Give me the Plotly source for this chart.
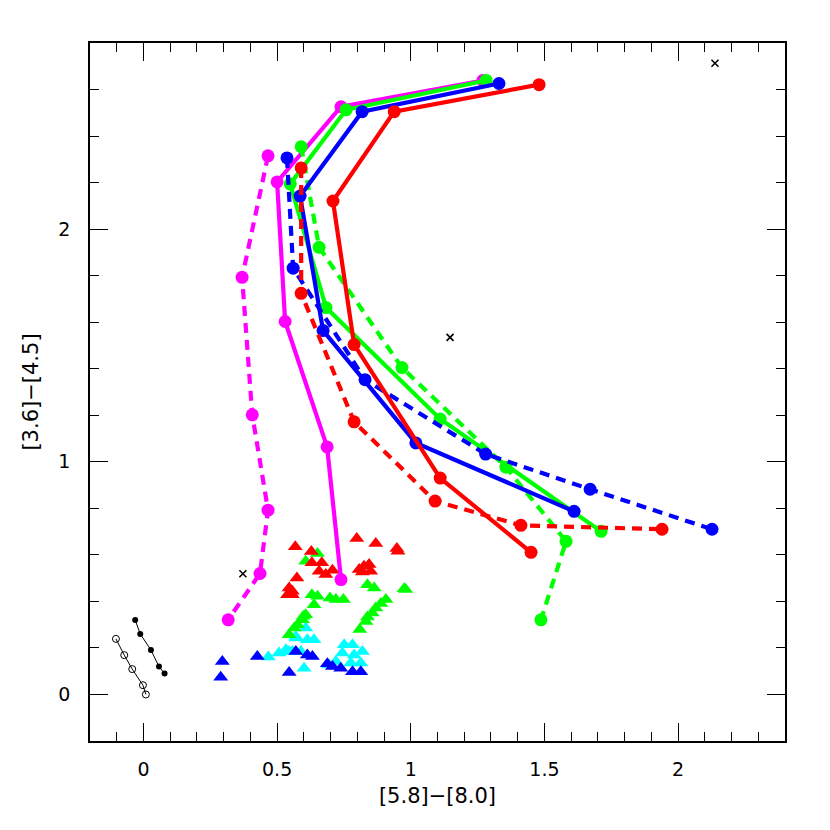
import plotly.graph_objects as go

# ---- model tracks: x = [5.8]-[8.0], y = [3.6]-[4.5] ----
mag_solid_x = [1.270, 0.739, 0.500, 0.530, 0.687, 0.739]
mag_solid_y = [2.639, 2.526, 2.203, 1.603, 1.064, 0.494]
mag_dash_x = [0.466, 0.369, 0.407, 0.466, 0.436, 0.317]
mag_dash_y = [2.315, 1.793, 1.202, 0.792, 0.520, 0.321]

grn_solid_x = [1.282, 0.758, 0.549, 0.683, 1.110, 1.712]
grn_solid_y = [2.639, 2.513, 2.194, 1.663, 1.184, 0.701]
grn_dash_x = [0.590, 0.657, 0.967, 1.356, 1.581, 1.487]
grn_dash_y = [2.354, 1.922, 1.405, 0.977, 0.658, 0.321]

blu_solid_x = [1.330, 0.818, 0.586, 0.672, 1.019, 1.611]
blu_solid_y = [2.626, 2.505, 2.142, 1.564, 1.081, 0.787]
blu_dash_x = [0.537, 0.560, 0.829, 1.280, 1.671, 2.127]
blu_dash_y = [2.306, 1.832, 1.353, 1.033, 0.882, 0.710]

red_solid_x = [1.480, 0.938, 0.709, 0.788, 1.110, 1.450]
red_solid_y = [2.621, 2.505, 2.121, 1.504, 0.930, 0.611]
red_dash_x = [0.590, 0.590, 0.788, 1.091, 1.412, 1.940]
red_dash_y = [2.263, 1.724, 1.172, 0.831, 0.727, 0.710]

# ---- reference sequences (black) ----
blk_fill_x = [-0.031, -0.012, 0.028, 0.058, 0.079]
blk_fill_y = [0.320, 0.260, 0.191, 0.120, 0.090]
blk_open_x = [-0.103, -0.072, -0.042, -0.002, 0.009]
blk_open_y = [0.239, 0.169, 0.109, 0.040, 0.000]

cross_x = [2.138, 1.147, 0.372]
cross_y = [2.713, 1.535, 0.519]

# ---- observed sources (triangles) ----
tri_red_x = [0.568, 0.628, 0.630, 0.667, 0.657, 0.682, 0.707, 0.798, 0.869, 0.948, 0.952,
             0.807, 0.825, 0.844, 0.850, 0.819, 0.574, 0.545, 0.557, 0.539, 0.557]
tri_red_y = [0.635, 0.614, 0.566, 0.566, 0.530, 0.516, 0.534, 0.670, 0.649, 0.627, 0.616,
             0.537, 0.551, 0.559, 0.530, 0.526, 0.501, 0.458, 0.444, 0.429, 0.429]

tri_grn_x = [0.651, 0.607, 0.838, 0.863, 0.975, 0.981, 0.630, 0.651, 0.638, 0.698, 0.720, 0.748,
             0.907, 0.888, 0.869, 0.856, 0.838, 0.832, 0.809, 0.607, 0.595, 0.576, 0.564, 0.545, 0.598]
tri_grn_y = [0.606, 0.573, 0.472, 0.458, 0.454, 0.451, 0.429, 0.422, 0.386, 0.415, 0.408, 0.408,
             0.408, 0.391, 0.372, 0.350, 0.333, 0.314, 0.279, 0.343, 0.321, 0.300, 0.286, 0.257, 0.336]

tri_cyn_x = [0.467, 0.507, 0.533, 0.557, 0.570, 0.607, 0.613, 0.638, 0.589, 0.601, 0.751,
             0.782, 0.819, 0.744, 0.788, 0.720, 0.694, 0.776, 0.813, 0.570, 0.545]
tri_cyn_y = [0.161, 0.178, 0.192, 0.185, 0.249, 0.286, 0.235, 0.235, 0.185, 0.113, 0.214,
             0.214, 0.185, 0.178, 0.170, 0.142, 0.127, 0.135, 0.135, 0.243, 0.185]

tri_blu_x = [0.295, 0.289, 0.426, 0.545, 0.570, 0.613, 0.632, 0.688, 0.738, 0.782, 0.813, 0.707]
tri_blu_y = [0.142, 0.074, 0.163, 0.094, 0.185, 0.170, 0.163, 0.132, 0.113, 0.098, 0.098, 0.120]

MAG, GRN, BLU, RED, CYN = "#FF00FF", "#00FF00", "#0000FF", "#FF0000", "#00FFFF"

fig = go.Figure()

def tri(x, y, c):
    fig.add_trace(go.Scatter(x=x, y=y, mode="markers",
                             marker=dict(symbol="triangle-up", size=13, color=c, line=dict(width=0)),
                             showlegend=False, hoverinfo="skip"))

tri(tri_cyn_x, tri_cyn_y, CYN)
tri(tri_blu_x, tri_blu_y, BLU)
tri(tri_grn_x, tri_grn_y, GRN)
tri(tri_red_x, tri_red_y, RED)

DASH = "10px,7px"

def track(x, y, c, dash):
    fig.add_trace(go.Scatter(x=x, y=y, mode="lines+markers",
                             line=dict(color=c, width=4.2, dash=dash),
                             marker=dict(symbol="circle", size=13, color=c),
                             showlegend=False))

track(mag_dash_x, mag_dash_y, MAG, DASH)
track(mag_solid_x, mag_solid_y, MAG, "solid")
track(grn_dash_x, grn_dash_y, GRN, DASH)
track(grn_solid_x, grn_solid_y, GRN, "solid")
track(blu_dash_x, blu_dash_y, BLU, DASH)
track(blu_solid_x, blu_solid_y, BLU, "solid")
track(red_dash_x, red_dash_y, RED, DASH)
track(red_solid_x, red_solid_y, RED, "solid")

fig.add_trace(go.Scatter(x=blk_fill_x, y=blk_fill_y, mode="lines+markers",
                         line=dict(color="black", width=1),
                         marker=dict(symbol="circle", size=6, color="black"),
                         showlegend=False))
fig.add_trace(go.Scatter(x=blk_open_x, y=blk_open_y, mode="lines+markers",
                         line=dict(color="black", width=1),
                         marker=dict(symbol="circle-open", size=7, color="black", line=dict(width=1)),
                         showlegend=False))
fig.add_trace(go.Scatter(x=cross_x, y=cross_y, mode="markers",
                         marker=dict(symbol="x-thin", size=7, color="black", line=dict(width=1.6, color="black")),
                         showlegend=False))

FONT = "DejaVu Sans"
axis_common = dict(
    showgrid=False, zeroline=False, showline=True, linecolor="black", linewidth=1.5,
    mirror="allticks", ticks="inside", ticklen=18, tickwidth=1.3, tickcolor="black",
    tickfont=dict(family=FONT, size=19, color="black"),
)

fig.update_xaxes(range=[-0.2, 2.4], tick0=0, dtick=0.5,
                 tickvals=[0, 0.5, 1, 1.5, 2], ticktext=["0", "0.5", "1", "1.5", "2"],
                 minor=dict(dtick=0.1, tick0=0, ticks="inside", ticklen=9, tickwidth=1.3, tickcolor="black"),
                 title=dict(text="[5.8]\u2212[8.0]", font=dict(family=FONT, size=21, color="black"), standoff=10),
                 ticklabelstandoff=10,
                 **axis_common)
fig.update_yaxes(range=[-0.2, 2.8], tick0=0, dtick=1,
                 tickvals=[0, 1, 2], ticktext=["0", "1", "2"],
                 minor=dict(dtick=0.2, tick0=0, ticks="inside", ticklen=9, tickwidth=1.3, tickcolor="black"),
                 title=dict(text="[3.6]\u2212[4.5]", font=dict(family=FONT, size=21, color="black"), standoff=14),
                 ticklabelstandoff=14,
                 **axis_common)

fig.update_layout(width=830, height=830,
                  margin=dict(l=82, r=53, t=35, b=97, autoexpand=False),
                  plot_bgcolor="white", paper_bgcolor="white")

fig.write_html("out.html")
